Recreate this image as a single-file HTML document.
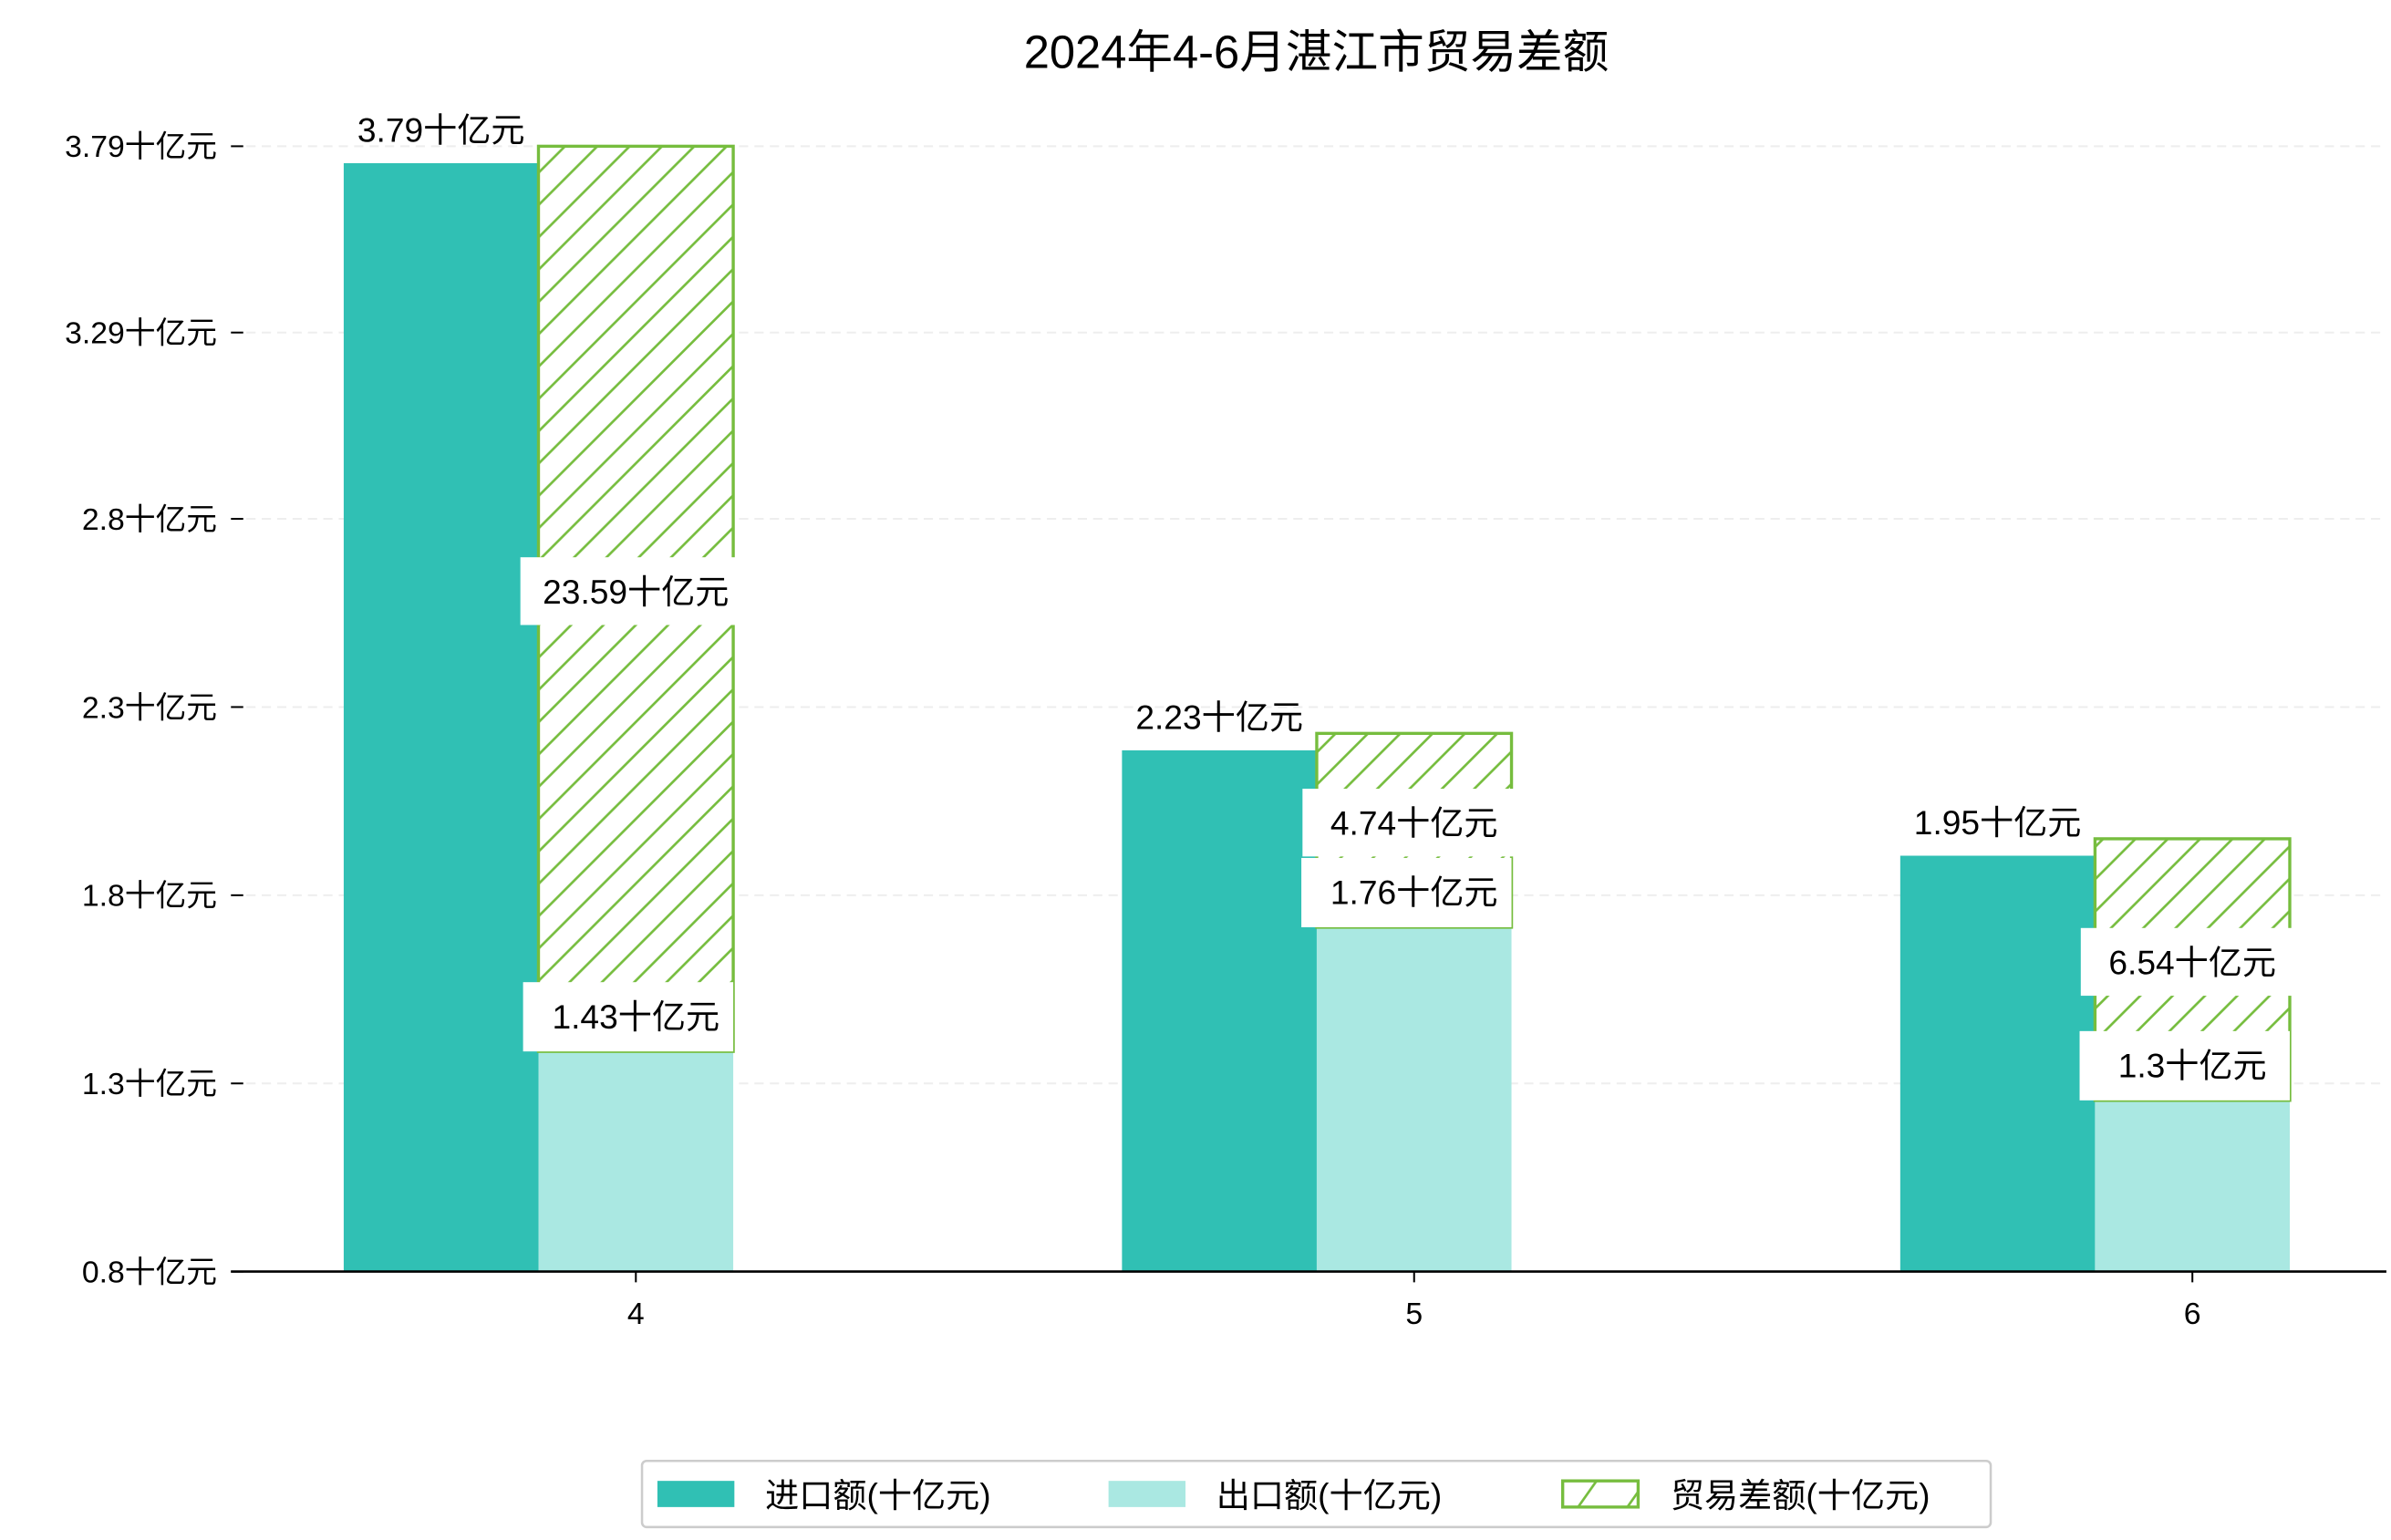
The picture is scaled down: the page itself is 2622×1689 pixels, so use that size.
<!DOCTYPE html>
<html><head><meta charset="utf-8">
<style>
html,body{margin:0;padding:0;background:#fff;}
svg{display:block;}
text{font-family:"Liberation Sans","Noto Sans CJK SC",sans-serif;}
</style></head>
<body>
<svg id="chart" width="2622" height="1689" viewBox="0 0 1553 1000.4" preserveAspectRatio="none" xmlns="http://www.w3.org/2000/svg">
<defs>
<pattern id="hatch" patternUnits="userSpaceOnUse" width="21" height="21">
<rect width="21" height="21" fill="#fff"/>
<path d="M-2,23 L23,-2 M-12,12 L12,-12 M9,33 L33,9" stroke="#76bd3e" stroke-width="1.6"/>
</pattern>
<pattern id="hatch2" patternUnits="userSpaceOnUse" width="32" height="17" x="1015" y="962">
<rect width="32" height="17" fill="#fff"/>
<path d="M10,17 L22,0 M42,17 L54,0 M-22,17 L-10,0" stroke="#76bd3e" stroke-width="1.6"/>
</pattern>
</defs>
<text x="855" y="44" font-size="30" text-anchor="middle" fill="#000">2024年4-6月湛江市贸易差额</text>
<g id="grid"></g>
<g id="bars"></g>
<g id="labels"></g>
<g id="axes"></g>
<g>
<rect x="417" y="949" width="876" height="43" rx="3" fill="#fff" stroke="#ccc" stroke-width="1.5"/>
<rect x="427" y="962" width="50" height="17" fill="#30c0b4"/>
<text x="497" y="979" font-size="22">进口额(十亿元)</text>
<rect x="720" y="962" width="50" height="17" fill="#aae8e2"/>
<text x="790" y="979" font-size="22">出口额(十亿元)</text>
<rect x="1015" y="962" width="49" height="17" fill="url(#hatch2)" stroke="#76bd3e" stroke-width="2"/>
<text x="1085" y="979" font-size="22">贸易差额(十亿元)</text>
</g>
</svg>
<script>
const categories = ["4","5","6"];
const importVals = [3.79, 2.23, 1.95];
const exportVals = [1.43, 1.76, 1.30];
const balanceHeights = [2.405, 0.515, 0.695];
const balanceLabels = ["23.59", "4.74", "6.54"];
const tickVals = [0.845, 1.345, 1.845, 2.345, 2.845, 3.34, 3.835];
const tickLabels = ["0.8", "1.3", "1.8", "2.3", "2.8", "3.29", "3.79"];

const NS = "http://www.w3.org/2000/svg";
const yBase = 826, plotLeft = 150, plotRight = 1550;
const yRef = 3.79, yRefPx = 106, pxPerUnit = 244.5;
function y(v){ return yRefPx + (yRef - v) * pxPerUnit; }
function xCenter(i){ return 413 + i * 505.5; }
const barW = 126.5;
function mk(tag, attrs, parent){
  const e = document.createElementNS(NS, tag);
  for (const k in attrs) e.setAttribute(k, attrs[k]);
  parent.appendChild(e); return e;
}
const grid = document.getElementById('grid');
const axes = document.getElementById('axes');
const bars = document.getElementById('bars');
const labels = document.getElementById('labels');

tickVals.forEach((v, i) => {
  const py = y(v);
  const g = mk('line', {x1: 160, x2: plotRight, y1: py, y2: py, stroke: '#eeeeee', 'stroke-width': 1.2, 'stroke-dasharray': '6,4'}, grid);
  
  
  const t = mk('line', {x1: 150, x2: 158, y1: py, y2: py, stroke: '#000', 'stroke-width': 1.2}, axes);
  
  
  const tx = mk('text', {x: 141, y: py + 7, 'font-size': 20, 'text-anchor': 'end'}, axes);
  tx.textContent = tickLabels[i] + '十亿元';
  
  
});

categories.forEach((c, i) => {
  const cx = xCenter(i);
  const xi = cx - 1.5 * barW, xe = cx - 0.5 * barW;
  const bi = mk('rect', {x: xi, y: y(importVals[i]), width: barW, height: yBase - y(importVals[i]), fill: '#30c0b4'}, bars);
  
  
  const be = mk('rect', {x: xe, y: y(exportVals[i]), width: barW, height: yBase - y(exportVals[i]), fill: '#aae8e2'}, bars);
  
  
  const topV = exportVals[i] + balanceHeights[i];
  const bb = mk('rect', {x: xe, y: y(topV), width: barW, height: y(exportVals[i]) - y(topV), fill: 'url(#hatch)', stroke: '#76bd3e', 'stroke-width': 2}, bars);
  
  

  const li = mk('text', {x: xi + barW/2, y: y(importVals[i]) - 14, 'font-size': 22, 'text-anchor': 'middle'}, labels);
  li.textContent = importVals[i] + '十亿元';
  
  

  const midY = (y(topV) + y(exportVals[i])) / 2 - 5;
  const bw = balanceLabels[i].length > 4 ? 150 : 137;
  const rb = mk('rect', {x: xe + barW/2 - bw/2 - (bw > 140 ? 0 : 4), y: midY - 22, width: bw, height: 44, fill: '#fff'}, labels);
  
  
  const lb = mk('text', {x: xe + barW/2, y: midY + 8, 'font-size': 22, 'text-anchor': 'middle'}, labels);
  lb.textContent = balanceLabels[i] + '十亿元';
  
  

  const ey = y(exportVals[i]);
  const re = mk('rect', {x: xe - 10, y: ey - 45, width: barW + 10, height: 45, fill: '#fff'}, labels);
  
  
  const le = mk('text', {x: xe + barW/2, y: ey - 15, 'font-size': 22, 'text-anchor': 'middle'}, labels);
  le.textContent = exportVals[i] + '十亿元';
  
  

  const xt = mk('line', {x1: cx, x2: cx, y1: yBase, y2: yBase + 7, stroke: '#000', 'stroke-width': 1.2}, axes);
  
  
  const xl = mk('text', {x: cx, y: yBase + 34, 'font-size': 20, 'text-anchor': 'middle'}, axes);
  xl.textContent = c;
  
  
});
const ax = mk('line', {x1: plotLeft, x2: plotRight, y1: yBase, y2: yBase, stroke: '#000', 'stroke-width': 1.5}, axes);


</script>
</body></html>
